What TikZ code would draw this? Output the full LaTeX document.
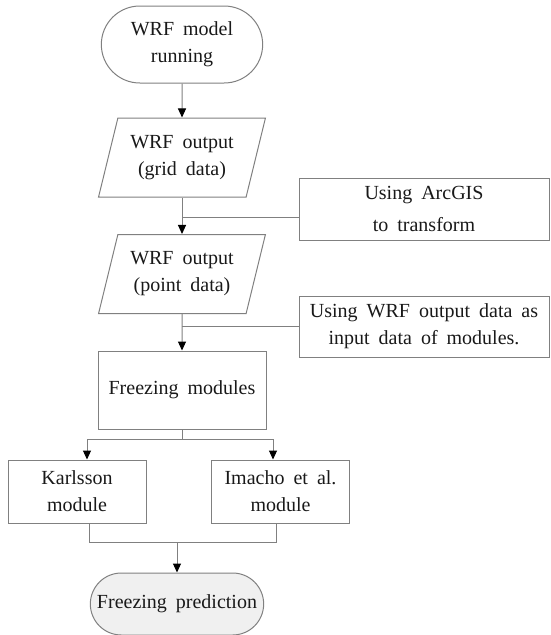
\documentclass[tikz,border=0pt]{standalone}
\usepackage{fontspec}
\setmainfont{Liberation Serif}[WordSpace=1.8]
\usepackage{tikz}
\usetikzlibrary{arrows.meta,shapes.geometric,shapes.misc,calc}
\tikzset{
  every node/.style={font=\fontsize{20}{27}\selectfont, align=center, text=black!90},
  line/.style={draw=black!50, line width=1pt},
  arr/.style={line, -{Triangle[length=9pt,width=8pt,color=black]}},
  terminal/.style={rounded rectangle, line, minimum width=168pt, minimum height=77pt},
  dataio/.style={trapezium, trapezium left angle=72, trapezium right angle=108,
    trapezium stretches=true, line, minimum width=167pt, minimum height=79pt},
  process/.style={rectangle, line, minimum width=168pt, minimum height=78pt},
  module/.style={rectangle, line, minimum width=138pt, minimum height=63pt},
  note/.style={rectangle, line, minimum width=250pt, minimum height=62pt}
}
\begin{document}
\begin{tikzpicture}[x=1pt,y=-1pt]
\useasboundingbox (0,0) rectangle (551,635);
\node[terminal] (run) at (182,44.5) {WRF model\\running};
\node[dataio] (grid) at (182,157.5) {WRF output\\(grid data)};
\node[dataio] (point) at (182,274) {WRF output\\(point data)};
\node[process] (frz) at (182,390) {Freezing modules};
\node[module] (karl) at (77,491.5) {Karlsson\\module};
\node[module] (ima) at (280.5,491.5) {Imacho et al.\\module};
\node[terminal, fill=black!6, minimum height=62pt, minimum width=180pt] (pred) at (177,604) {Freezing prediction};
\node[note, font=\fontsize{20}{32}\selectfont] (arc) at (424,209) {Using ArcGIS\\to transform};
\node[note, minimum height=61pt] (inp) at (424,326.5) {Using WRF output data as\\input data of modules.};
\coordinate (j1) at (182,217);
\coordinate (sL) at (87,439);
\coordinate (sR) at (273,439);
\coordinate (mL) at (89,542);
\coordinate (mR) at (276,542);
\draw[arr] (run.south) -- (grid.north);
\draw[arr] (grid.south) -- (point.north);
\draw[line] (arc.west |- j1) -- (j1);
\draw[arr] (point.south) -- (frz.north);
\draw[line] (inp.west) -- (inp.west -| frz.north);
\draw[line] (frz.south) -- (frz.south |- sL);
\draw[line] (sL) -- (sR);
\draw[arr] (sL) -- (sL |- karl.north);
\draw[arr] (sR) -- (sR |- ima.north);
\draw[line] (mL |- karl.south) -- (mL) -- (mR) -- (mR |- ima.south);
\draw[arr] (mL -| pred.north) -- (pred.north);
\end{tikzpicture}
\end{document}
